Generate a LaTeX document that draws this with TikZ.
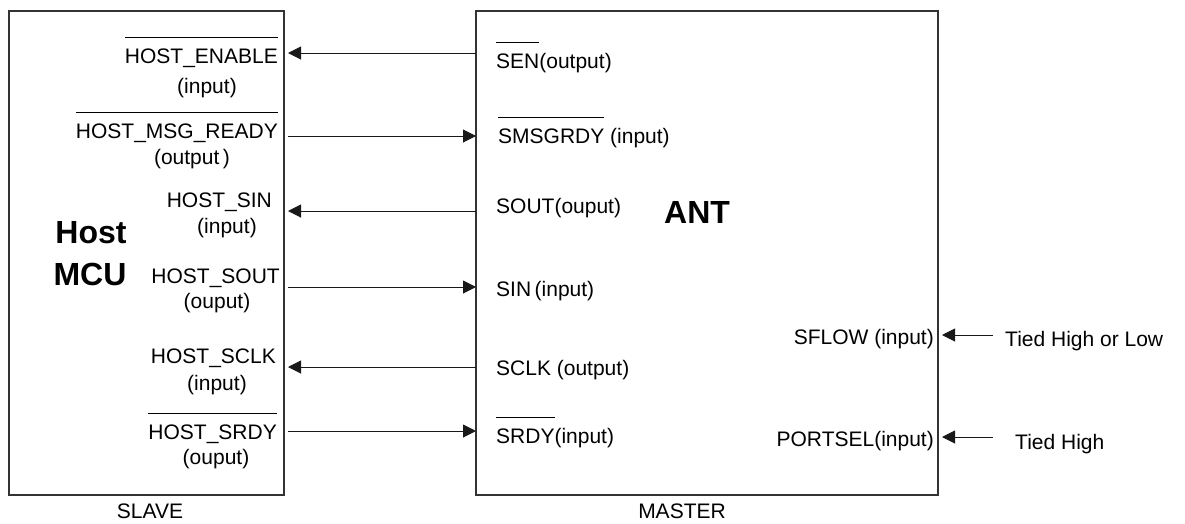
\documentclass[tikz,border=0pt]{standalone}
\usepackage{fontspec}
\setmainfont{Liberation Sans}
\usetikzlibrary{arrows.meta}

% bar over active-low signal names
\newlength{\barwd}
\newcommand{\ovl}[1]{\settowidth{\barwd}{#1}\rlap{\rule[1.2em]{\barwd}{0.9pt}}#1}

\tikzset{
  chip/.style={draw=black!80, line width=1.3pt, inner sep=0pt, outer sep=0pt, anchor=north west},
  pin/.style={font=\fontsize{21}{24}\selectfont, inner sep=0pt},
  big/.style={font=\fontsize{32}{36}\selectfont\bfseries, inner sep=0pt},
  sig/.style={-{Triangle[length=13pt,width=13pt]}, line width=1pt, draw=black!90},
}

\begin{document}
\begin{tikzpicture}[x=1pt,y=-1pt]
\useasboundingbox (0,0) rectangle (1185,523);

% The two chips
\node[chip, minimum width=275pt, minimum height=484pt] (slave) at (9,11) {};
\node[chip, minimum width=462pt, minimum height=484pt] (master) at (476,11) {};
\node[big, anchor=base] (host) at (91,243) {Host};
\node[big, anchor=base] (mcu) at (90,285) {MCU};
\node[big, anchor=base west] (ant) at (664,223) {ANT};
\node[pin, anchor=base] (slavelbl) at (150,518) {SLAVE};
\node[pin, anchor=base] (masterlbl) at (682,518) {MASTER};

% Host side pins
\node[pin, anchor=base east] (hen) at (278,63) {\ovl{HOST\_ENABLE}};
\node[pin, anchor=base] (hen-io) at (207,93) {(input)};
\node[pin, anchor=base east] (hmr) at (278,138) {\ovl{HOST\_MSG\_READY}};
\node[pin, anchor=base] (hmr-io) at (192,164) {(output\,)};
\node[pin, anchor=base east] (hsin) at (272,207) {HOST\_SIN};
\node[pin, anchor=base] (hsin-io) at (227,233) {(input)};
\node[pin, anchor=base east] (hsout) at (280,283) {HOST\_SOUT};
\node[pin, anchor=base] (hsout-io) at (217,308) {(ouput)};
\node[pin, anchor=base east] (hsclk) at (276,363) {HOST\_SCLK};
\node[pin, anchor=base] (hsclk-io) at (217,390) {(input)};
\node[pin, anchor=base east] (hsrdy) at (277,439) {\ovl{HOST\_SRDY}};
\node[pin, anchor=base] (hsrdy-io) at (216,464) {(ouput)};

% ANT side pins
\node[pin, anchor=base west] (sen) at (496,68) {\ovl{SEN}(output)};
\node[pin, anchor=base west] (smsg) at (498,143) {\ovl{SMSGRDY} (input)};
\node[pin, anchor=base west] (sout) at (496,213) {SOUT(ouput)};
\node[pin, anchor=base west] (sin) at (496,296) {SIN\,(input)};
\node[pin, anchor=base west] (sclk) at (496,375) {SCLK (output)};
\node[pin, anchor=base west] (srdy) at (496,443) {\ovl{SRDY}(input)};
\node[pin, anchor=base east] (sflow) at (934,344) {SFLOW (input)};
\node[pin, anchor=base east] (portsel) at (934,446) {PORTSEL(input)};
\node[pin, anchor=base west] (tie1) at (1005,346) {Tied High or Low};
\node[pin, anchor=base west] (tie2) at (1015,449) {Tied High};
\coordinate (tie1end) at (993,335);
\coordinate (tie2end) at (993,437);

% Serial lines
\foreach \y in {53,211,367}
  \draw[sig] (master.west |- 0,\y) -- ([xshift=4pt]slave.east |- 0,\y);
\foreach \y in {136,287,431}
  \draw[sig] ([xshift=4pt]slave.east |- 0,\y) -- (master.west |- 0,\y);

% Strapped inputs
\draw[sig] (tie1end) -- ([xshift=4pt]master.east |- tie1end);
\draw[sig] (tie2end) -- ([xshift=4pt]master.east |- tie2end);
\end{tikzpicture}
\end{document}
